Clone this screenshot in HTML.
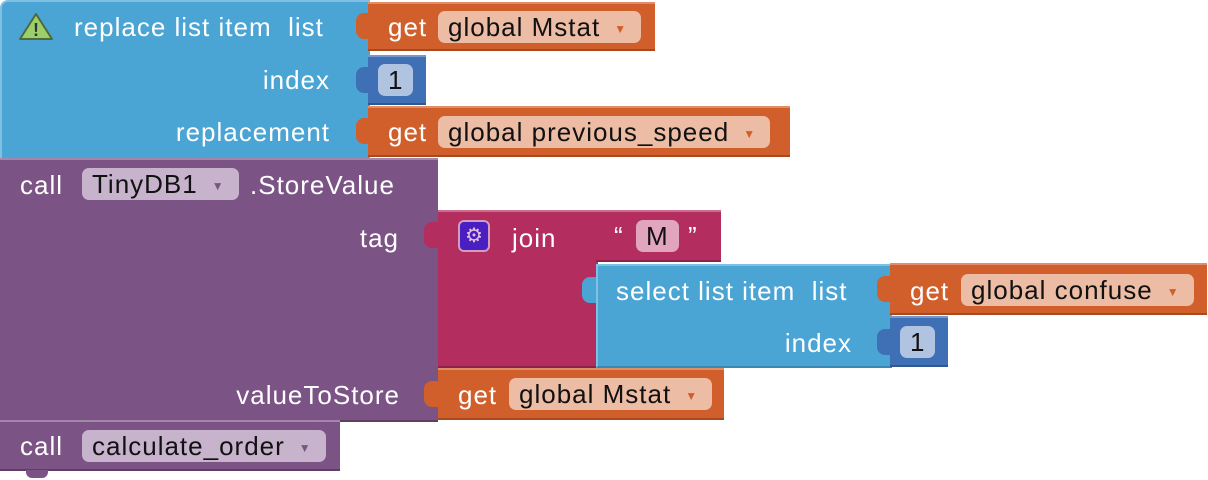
<!DOCTYPE html>
<html><head><style>
body{margin:0;width:1208px;height:480px;background:#fff;position:relative;overflow:hidden;font-family:"Liberation Sans",sans-serif;}
.b{position:absolute;box-sizing:border-box;}
.t{position:absolute;color:#fff;font-size:26px;letter-spacing:1px;line-height:28px;white-space:nowrap;}
.f{position:absolute;border-radius:7px;color:#111;font-size:26px;letter-spacing:1px;line-height:32px;height:32px;padding:0 10px;white-space:nowrap;box-sizing:border-box;}
.f .ar{font-size:12px;vertical-align:middle;margin-left:14px;margin-right:4px;}
.tab{position:absolute;width:14px;height:26px;border-radius:8px 0 0 8px;}
.blue{background:#4aa4d4;border-top:2px solid #80c0e4;border-left:2px solid #80c0e4;border-bottom:2px solid #3a88b4;}
.or{background:#d15f2b;border-top:2px solid #e08d68;border-bottom:2px solid #a84a20;}
.db{background:#3f6fb4;border-top:2px solid #7696cc;border-bottom:2px solid #30588f;}
.pu{background:#7c5385;border-top:2px solid #a386aa;border-bottom:2px solid #5f3d66;}
.mg{background:#b32d5e;border-top:2px solid #cc6c8e;border-bottom:2px solid #8c2249;}
.of{background:#edbca5;}
.pf{background:#c8b3cd;}
.bf{background:#b0c4e2;}
.mf{background:#e1a5bd;}
</style></head><body>
<div class="b blue" style="left:0;top:0;width:370px;height:160px;border-radius:8px 0 0 0"></div>
<svg style="position:absolute;left:18px;top:12px" width="36" height="30"><polygon points="18,2 34,27 2,27" fill="#9ccf6a" stroke="#4f6b3a" stroke-width="2" stroke-linejoin="round"/><text x="18" y="24" font-size="18" font-weight="bold" text-anchor="middle" fill="#333" font-family="Liberation Sans">!</text></svg>
<div class="t" style="left:74px;top:13px">replace list item&nbsp; list</div>
<div class="t" style="right:878px;top:66px">index</div>
<div class="t" style="right:878px;top:118px">replacement</div>
<div class="b or" style="left:368px;top:2px;width:287px;height:49px"></div>
<div class="tab" style="left:356px;top:13px;background:#d15f2b"></div>
<div class="t" style="left:388px;top:13px">get</div>
<div class="f of" style="left:438px;top:11px">global Mstat<span class="ar" style="color:#d15f2b">▼</span></div>
<div class="b db" style="left:368px;top:55px;width:58px;height:50px"></div>
<div class="tab" style="left:356px;top:67px;background:#3f6fb4"></div>
<div class="f bf" style="left:378px;top:64px">1</div>
<div class="b or" style="left:368px;top:106px;width:422px;height:51px"></div>
<div class="tab" style="left:356px;top:118px;background:#d15f2b"></div>
<div class="t" style="left:388px;top:118px">get</div>
<div class="f of" style="left:438px;top:116px">global previous_speed<span class="ar" style="color:#d15f2b">▼</span></div>
<div class="b pu" style="left:0;top:158px;width:438px;height:264px"></div>
<div class="t" style="left:20px;top:171px">call</div>
<div class="f pf" style="left:82px;top:168px">TinyDB1<span class="ar" style="color:#7c5385">▼</span></div>
<div class="t" style="left:250px;top:171px">.StoreValue</div>
<div class="t" style="right:809px;top:224px">tag</div>
<div class="t" style="right:808px;top:381px">valueToStore</div>
<div class="b mg" style="left:438px;top:210px;width:160px;height:158px"></div>
<div class="tab" style="left:424px;top:222px;background:#b32d5e"></div>
<div class="b" style="left:458px;top:220px;width:32px;height:32px;background:#4a1fc2;border:2px solid #d59bc0;border-radius:6px;color:#e6c0d8;font-size:20px;line-height:28px;text-align:center">⚙</div>
<div class="t" style="left:512px;top:224px">join</div>
<div class="b mg" style="left:596px;top:210px;width:125px;height:52px"></div>
<div class="tab" style="left:584px;top:222px;background:#b32d5e"></div>
<div class="t" style="left:614px;top:222px">“</div>
<div class="f mf" style="left:636px;top:220px">M</div>
<div class="t" style="left:688px;top:222px">”</div>
<div class="b blue" style="left:596px;top:264px;width:296px;height:104px"></div>
<div class="tab" style="left:582px;top:277px;background:#4aa4d4"></div>
<div class="t" style="left:616px;top:277px">select list item&nbsp; list</div>
<div class="t" style="right:356px;top:329px">index</div>
<div class="b or" style="left:890px;top:263px;width:317px;height:52px"></div>
<div class="tab" style="left:877px;top:276px;background:#d15f2b"></div>
<div class="t" style="left:910px;top:277px">get</div>
<div class="f of" style="left:961px;top:274px">global confuse<span class="ar" style="color:#d15f2b">▼</span></div>
<div class="b db" style="left:890px;top:316px;width:58px;height:51px"></div>
<div class="tab" style="left:877px;top:329px;background:#3f6fb4"></div>
<div class="f bf" style="left:900px;top:326px">1</div>
<div class="b or" style="left:438px;top:368px;width:286px;height:52px"></div>
<div class="tab" style="left:424px;top:381px;background:#d15f2b"></div>
<div class="t" style="left:458px;top:381px">get</div>
<div class="f of" style="left:509px;top:378px">global Mstat<span class="ar" style="color:#d15f2b">▼</span></div>
<div class="b pu" style="left:0;top:420px;width:340px;height:51px"></div>
<div class="b" style="left:26px;top:470px;width:22px;height:8px;background:#7c5385;border-radius:0 0 6px 6px"></div>
<div class="t" style="left:20px;top:432px">call</div>
<div class="f pf" style="left:82px;top:430px">calculate_order<span class="ar" style="color:#7c5385">▼</span></div>
</body></html>
